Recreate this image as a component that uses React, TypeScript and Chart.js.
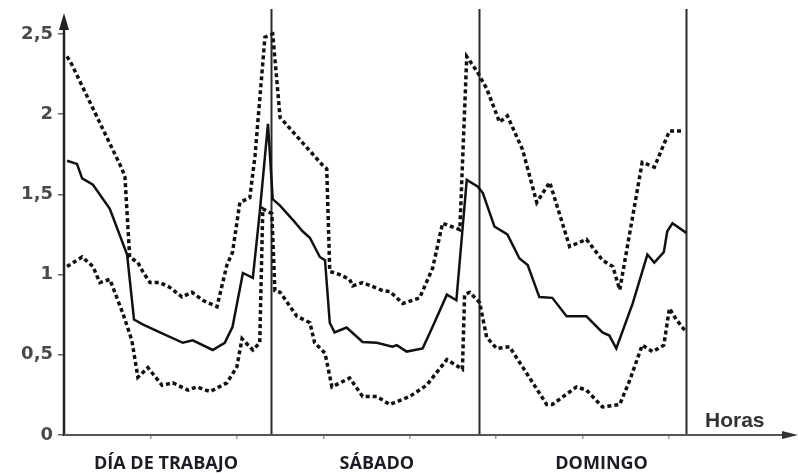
import React, { useEffect, useRef } from "react";
import { Chart, registerables } from "chart.js";

Chart.register(...registerables);

// Hours (0-72) and relative load values
const meanHours = [0.35, 1.5, 2.1, 3.35, 5.3, 7.3, 8.1, 9.1, 11.1, 13.75, 14.9, 17.2, 18.6, 19.5, 20.7, 21.85, 22.65, 23.6, 24.15, 25.0, 26.5, 27.6, 28.45, 29.6, 30.2, 30.75, 31.3, 32.7, 34.55, 36.2, 38.0, 38.5, 39.65, 41.5, 42.65, 44.3, 45.4, 46.6, 47.85, 48.45, 49.8, 51.3, 52.7, 53.65, 55.0, 56.5, 58.15, 60.45, 62.3, 63.1, 63.9, 65.8, 67.5, 68.3, 69.4, 69.8, 70.4, 72.0];
const meanValues = [1.71, 1.69, 1.6, 1.56, 1.41, 1.125, 0.72, 0.69, 0.64, 0.575, 0.59, 0.53, 0.575, 0.675, 1.01, 0.98, 1.39, 1.94, 1.47, 1.43, 1.34, 1.27, 1.23, 1.11, 1.09, 0.7, 0.64, 0.67, 0.58, 0.575, 0.55, 0.56, 0.52, 0.54, 0.675, 0.875, 0.84, 1.59, 1.55, 1.51, 1.3, 1.25, 1.1, 1.06, 0.86, 0.855, 0.74, 0.74, 0.64, 0.62, 0.54, 0.82, 1.125, 1.075, 1.14, 1.27, 1.32, 1.26];

const upperHours = [0.35, 0.9, 6.7, 7.05, 7.6, 8.55, 9.1, 9.95, 11.1, 12.25, 13.65, 14.8, 16.05, 17.7, 18.85, 19.5, 20.35, 21.5, 22.1, 23.25, 24.15, 25.0, 29.95, 30.4, 30.75, 31.9, 33.05, 33.4, 34.55, 36.9, 37.7, 39.2, 41.15, 42.65, 43.8, 45.8, 46.6, 47.75, 48.9, 50.4, 51.3, 53.05, 54.7, 56.2, 58.5, 60.45, 62.3, 63.5, 64.3, 66.9, 68.3, 70.05, 71.55];
const upperValues = [2.36, 2.31, 1.66, 1.61, 1.11, 1.075, 1.02, 0.95, 0.95, 0.92, 0.86, 0.89, 0.84, 0.8, 1.06, 1.14, 1.45, 1.48, 1.74, 2.48, 2.5, 1.98, 1.68, 1.66, 1.02, 1.0, 0.97, 0.93, 0.95, 0.9, 0.895, 0.82, 0.855, 1.04, 1.32, 1.28, 2.36, 2.27, 2.16, 1.95, 1.99, 1.78, 1.45, 1.575, 1.175, 1.22, 1.09, 1.05, 0.905, 1.7, 1.67, 1.895, 1.895];

const lowerHours = [0.35, 2.1, 3.35, 4.15, 5.3, 6.8, 7.85, 8.55, 9.7, 11.35, 12.6, 14.35, 15.4, 16.9, 18.85, 20.0, 20.6, 21.85, 22.65, 23.0, 24.05, 24.4, 25.0, 26.95, 28.45, 29.0, 30.2, 31.0, 33.05, 34.55, 36.2, 37.7, 40.0, 41.95, 44.3, 46.1, 46.35, 46.95, 48.1, 48.9, 50.05, 51.55, 53.05, 55.85, 56.5, 59.3, 60.45, 62.3, 64.3, 65.45, 66.9, 68.1, 69.4, 70.05, 70.85, 72.0];
const lowerValues = [1.05, 1.11, 1.05, 0.95, 0.97, 0.76, 0.59, 0.36, 0.42, 0.31, 0.325, 0.28, 0.3, 0.27, 0.325, 0.425, 0.6, 0.53, 0.575, 1.41, 1.38, 0.9, 0.89, 0.74, 0.7, 0.575, 0.51, 0.3, 0.355, 0.24, 0.24, 0.19, 0.24, 0.31, 0.47, 0.41, 0.875, 0.89, 0.825, 0.61, 0.54, 0.55, 0.425, 0.19, 0.19, 0.3, 0.28, 0.175, 0.19, 0.34, 0.56, 0.52, 0.56, 0.79, 0.72, 0.64];

const dayBoundaries = [24, 48, 72];
const xTickHours = [10, 20, 30, 40, 50, 60, 70];
const dayLabels = ["DÍA DE TRABAJO", "SÁBADO", "DOMINGO"];
const dayLabelHours = [11.8, 36.2, 62.2];
const xAxisTitle = "Horas";

const toPoints = (xs: number[], ys: number[]) => xs.map((x, i) => ({ x, y: ys[i] }));

const overlay = {
  id: "overlay",
  beforeDatasetsDraw(chart: any) {
    const { ctx, scales } = chart;
    const xs = scales.x;
    const ys = scales.y;
    const bottom = ys.getPixelForValue(0);
    ctx.save();
    ctx.strokeStyle = "#2a2a2a";
    ctx.lineWidth = 2;
    dayBoundaries.forEach((h) => {
      const px = Math.round(xs.getPixelForValue(h)) + 0.5;
      ctx.beginPath();
      ctx.moveTo(px, bottom);
      ctx.lineTo(px, 9);
      ctx.stroke();
    });
    ctx.restore();
  },
  afterDatasetsDraw(chart: any) {
    const { ctx, scales } = chart;
    const xs = scales.x;
    const ys = scales.y;
    const x0 = xs.getPixelForValue(0);
    const y0 = ys.getPixelForValue(0);
    ctx.save();
    // y axis with arrow
    ctx.strokeStyle = "#222";
    ctx.fillStyle = "#222";
    ctx.lineWidth = 2.5;
    ctx.beginPath();
    ctx.moveTo(x0, y0 + 1);
    ctx.lineTo(x0, 26);
    ctx.stroke();
    ctx.beginPath();
    ctx.moveTo(x0, 13);
    ctx.lineTo(x0 - 5, 30);
    ctx.lineTo(x0 + 5, 30);
    ctx.closePath();
    ctx.fill();
    // x axis with arrow
    ctx.strokeStyle = "#555";
    ctx.fillStyle = "#333";
    ctx.lineWidth = 2;
    ctx.beginPath();
    ctx.moveTo(x0, y0);
    ctx.lineTo(786, y0);
    ctx.stroke();
    ctx.beginPath();
    ctx.moveTo(798, y0);
    ctx.lineTo(782, y0 - 4);
    ctx.lineTo(782, y0 + 4);
    ctx.closePath();
    ctx.fill();
    // labels
    ctx.fillStyle = "#1c1c24";
    ctx.textAlign = "center";
    ctx.textBaseline = "alphabetic";
    ctx.font = "bold 18px 'Open Sans'";
    dayLabels.forEach((t, i) => {
      ctx.fillText(t, xs.getPixelForValue(dayLabelHours[i]), 469);
    });
    ctx.fillStyle = "#333";
    ctx.textAlign = "left";
    ctx.font = "bold 21px 'Liberation Sans'";
    ctx.fillText(xAxisTitle, 705, 427);
    ctx.restore();
  },
};

export default function App() {
  const ref = useRef<HTMLCanvasElement>(null);
  useEffect(() => {
    if (!ref.current) return;
    const lineBase = { pointRadius: 0, tension: 0, fill: false, clip: false as any };
    const chart = new Chart(ref.current, {
      type: "line",
      data: {
        datasets: [
          { ...lineBase, label: "Media", data: toPoints(meanHours, meanValues), borderColor: "#111", borderWidth: 2.5 },
          { ...lineBase, label: "Superior", data: toPoints(upperHours, upperValues), borderColor: "#111", borderWidth: 3.5, borderDash: [4, 3] },
          { ...lineBase, label: "Inferior", data: toPoints(lowerHours, lowerValues), borderColor: "#111", borderWidth: 3.5, borderDash: [4, 3] },
        ],
      },
      options: {
        animation: false,
        responsive: false,
        devicePixelRatio: 1,
        layout: { padding: { top: 34, right: 8, left: 0, bottom: 0 } },
        plugins: { legend: { display: false }, tooltip: { enabled: false } },
        scales: {
          x: {
            type: "linear",
            min: 0,
            max: 84,
            border: { display: false },
            grid: { drawOnChartArea: false, drawTicks: true, tickLength: 4, color: "#999", lineWidth: 1.5 },
            ticks: { display: false },
            afterBuildTicks: (s: any) => {
              s.ticks = xTickHours.map((v) => ({ value: v }));
            },
            afterFit: (s: any) => {
              s.height = 40;
            },
          },
          y: {
            min: 0,
            max: 2.5,
            border: { display: false },
            grid: { drawOnChartArea: false, drawTicks: true, tickLength: 6, color: "#666", lineWidth: 1.5 },
            ticks: {
              stepSize: 0.5,
              padding: 5,
              color: "#4a4a4a",
              font: { family: "'DejaVu Sans'", weight: "bold", size: 18 },
              callback: (v: any) => String(v).replace(".", ","),
            },
            afterFit: (s: any) => {
              s.width = 64;
            },
          },
        },
      },
      plugins: [overlay],
    });
    return () => chart.destroy();
  }, []);
  return (
    <div style={{ position: "fixed", left: 0, top: 0, width: 798, height: 475, background: "#fff" }}>
      <canvas ref={ref} width={798} height={475} />
    </div>
  );
}
